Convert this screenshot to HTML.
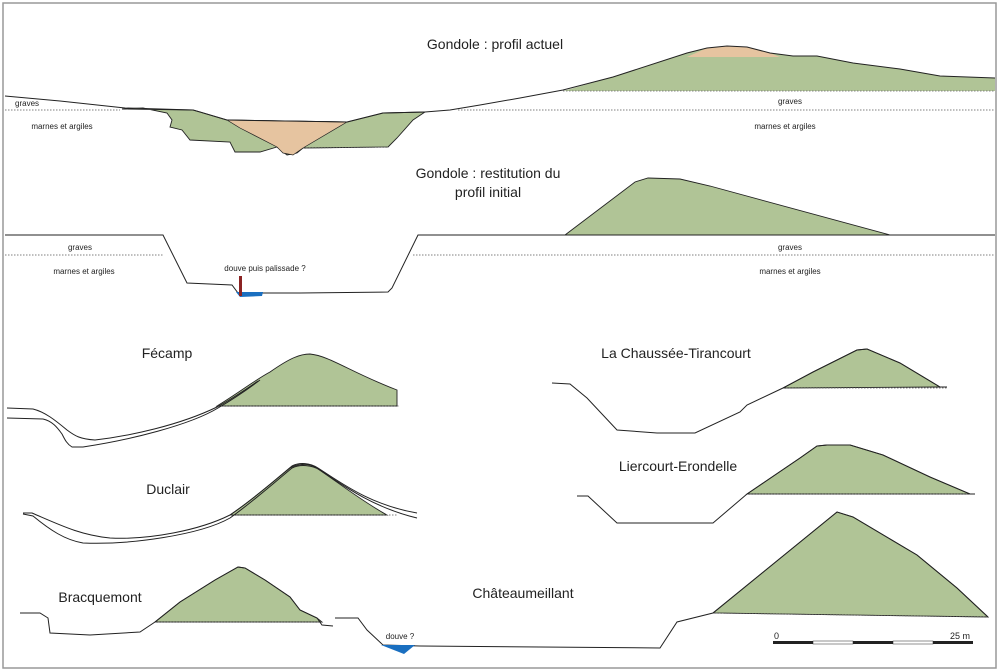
<!DOCTYPE html>
<html><head><meta charset="utf-8"><style>
html,body{margin:0;padding:0;background:#fff;}
svg{display:block;}
text{font-family:"Liberation Sans",sans-serif;fill:#222;}
.t{font-size:14px;text-anchor:middle;}
.s{font-size:8px;text-anchor:middle;}
.ln{fill:none;stroke:#222;stroke-width:1;}
.g{fill:#b0c496;stroke:#222;stroke-width:0.9;}
.d{fill:none;stroke:#555;stroke-width:0.8;stroke-dasharray:1.5,1.5;}
</style></head><body>
<svg width="1000" height="671" viewBox="0 0 1000 671" xmlns="http://www.w3.org/2000/svg">
<rect x="3" y="3" width="993" height="665" fill="#fff" stroke="#999" stroke-width="1.5"/>

<!-- Section 1 -->
<text class="t" x="495" y="49">Gondole : profil actuel</text>
<polygon fill="#b0c496" points="563,91 613,77 687,53 707,48 727,46 747,47 770,53 793,56 817,56 853,63 900,69 940,76 995,78 995,91"/>
<polygon fill="#e6c4a0" points="687,57 707,48 727,46 747,47 770,53 780,57"/>
<line x1="563" y1="91" x2="995" y2="91" stroke="#666" stroke-width="0.8" stroke-dasharray="1.5,1.5"/>
<polygon class="g" points="122,109 143,108 167,113 172,120 170,127 182,130 190,140 230,142 235,152 260,152 277,147 287,155 297,153 303,148 388,147 397,138 413,120 425,112 383,113 347,122 227,120 200,112 193,110"/>
<polygon fill="#e6c4a0" stroke="#222" stroke-width="0.7" points="227,120 347,122 303,148 293,155 283,153 277,147 240,128"/>
<line class="d" x1="303" y1="148" x2="388" y2="147"/>
<polyline class="ln" points="5,96 60,101 125,108 193,110 200,112 227,120 347,122 383,113 425,112 450,110 480,105 520,98 563,90 613,77 687,53 707,48 727,46 747,47 770,53 793,56 817,56 853,63 900,69 940,76 995,78"/>
<line class="d" x1="5" y1="110" x2="120" y2="110"/>
<line class="d" x1="458" y1="110" x2="995" y2="110"/>
<text class="s" x="15" y="106" style="text-anchor:start">graves</text>
<text class="s" x="790" y="104">graves</text>
<text class="s" x="62" y="129">marnes et argiles</text>
<text class="s" x="785" y="129">marnes et argiles</text>

<!-- Section 2 -->
<text class="t" x="488" y="178">Gondole : restitution du</text>
<text class="t" x="488" y="197">profil initial</text>
<polygon class="g" points="565,235 635,182 648,178 680,179 710,186 890,235"/>
<line class="d" x1="565" y1="235" x2="890" y2="235"/>
<polyline class="ln" points="5,235 163,235 187,283 232,285 238,293 265,293 300,293 388,292 392,288 418,235 995,235"/>
<line class="d" x1="5" y1="255" x2="163" y2="255"/>
<line class="d" x1="413" y1="255" x2="995" y2="255"/>
<polygon fill="#1a6fc0" points="236,292 263,292 262,296 240,297"/>
<rect x="239" y="276" width="3" height="20" fill="#8b2323"/>
<text class="s" x="80" y="250">graves</text>
<text class="s" x="790" y="250">graves</text>
<text class="s" x="84" y="274">marnes et argiles</text>
<text class="s" x="790" y="274">marnes et argiles</text>
<text class="s" x="265" y="271">douve puis palissade ?</text>

<!-- Fécamp -->
<text class="t" x="167" y="358">Fécamp</text>
<path class="g" d="M217,406 C240,392 255,380 270,372 C290,358 300,354 310,354 C330,356 350,372 397,390 L397,406 Z"/>
<line class="d" x1="217" y1="406" x2="399" y2="406"/>
<path class="ln" d="M7,408 L33,409 C45,412 55,420 67,430 C75,436 80,439 95,440 C130,436 180,425 217,407 C230,400 245,390 258,381"/>
<path class="ln" d="M7,418 L43,419 C52,421 57,427 62,434 C65,440 67,444 72,447 L83,447 C130,440 190,425 218,408 C235,398 248,389 260,380"/>

<!-- Duclair -->
<text class="t" x="168" y="494">Duclair</text>
<path class="g" d="M230,515 C255,498 275,480 290,468 C296,464 308,463 315,467 C335,480 360,500 387,515 Z"/>
<line class="d" x1="230" y1="515" x2="397" y2="515"/>
<path class="ln" d="M23,513 L32,513 C60,525 80,535 110,538 C150,540 200,530 230,515 C255,498 275,480 292,466 C300,462 310,463 318,468 C340,482 370,505 417,513"/>
<path class="ln" d="M23,514 L33,516 C50,530 65,540 83,543 C130,545 200,535 230,518 C255,500 275,482 292,468 C300,464 312,465 320,470 C345,487 375,508 417,518"/>

<!-- Bracquemont -->
<text class="t" x="100" y="602">Bracquemont</text>
<polygon class="g" points="155,622 180,602 215,580 238,567 245,568 265,580 290,597 300,610 317,618 322,622"/>
<line class="d" x1="155" y1="622" x2="322" y2="622"/>
<polyline class="ln" points="20,613 40,613 48,618 50,633 90,635 140,632 155,622 180,602 215,580 238,567 245,568 265,580 290,597 300,610 317,618 322,625 333,626"/>

<!-- Châteaumeillant -->
<text class="t" x="523" y="598">Châteaumeillant</text>
<polygon class="g" points="713,613 837,512 853,517 917,555 957,588 988,617"/>
<line class="d" x1="713" y1="613" x2="988" y2="617"/>
<polyline class="ln" points="335,618 358,618 367,630 383,645 420,646 540,647 660,648 677,622 713,613 837,512 853,517 917,555 957,588 988,617"/>
<polygon fill="#1a6fc0" points="381,645 415,645 404,654"/>
<text class="s" x="400" y="639">douve ?</text>

<!-- La Chaussée-Tirancourt -->
<text class="t" x="676" y="358">La Chaussée-Tirancourt</text>
<polygon class="g" points="783,388 813,372 857,350 867,349 900,363 940,387"/>
<line class="d" x1="783" y1="388" x2="947" y2="388"/>
<polyline class="ln" points="552,383 570,384 587,398 617,430 657,433 695,433 740,412 747,405 783,388 813,372 857,350 867,349 900,363 940,387 947,387"/>

<!-- Liercourt-Erondelle -->
<text class="t" x="678" y="471">Liercourt-Erondelle</text>
<polygon class="g" points="747,494 800,458 817,446 827,445 850,445 883,455 930,477 970,494"/>
<line class="d" x1="747" y1="494" x2="975" y2="494"/>
<polyline class="ln" points="577,496 588,496 617,523 713,523 747,494 800,458 817,446 827,445 850,445 883,455 930,477 970,494 975,494"/>

<!-- Scale bar -->
<rect x="773" y="641" width="40" height="3" fill="#222"/>
<rect x="813" y="641" width="40" height="3" fill="#fff" stroke="#222" stroke-width="0.5"/>
<rect x="853" y="641" width="40" height="3" fill="#222"/>
<rect x="893" y="641" width="40" height="3" fill="#fff" stroke="#222" stroke-width="0.5"/>
<rect x="933" y="641" width="40" height="3" fill="#222"/>
<text x="774" y="639" style="font-size:9px">0</text>
<text x="950" y="639" style="font-size:9px">25 m</text>
</svg>
</body></html>
